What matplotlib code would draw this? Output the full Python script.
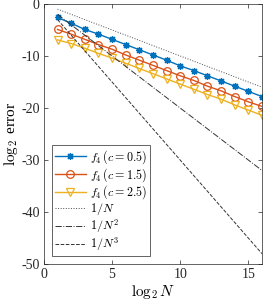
import matplotlib
matplotlib.use("Agg")
import matplotlib.pyplot as plt

# log2 N
log2N = [1, 2, 3, 4, 5, 6, 7, 8, 9, 10, 11, 12, 13, 14, 15, 16]

# log2 error for f4 with different c
err_c05 = [-2.6, -3.7, -4.9, -5.8, -6.8, -7.8, -8.8, -9.8, -10.8, -11.9,
           -12.8, -13.8, -14.8, -15.8, -16.8, -17.8]
err_c15 = [-4.9, -5.8, -6.8, -7.8, -8.7, -9.8, -10.8, -11.8, -12.8, -13.8,
           -14.7, -15.8, -16.7, -17.8, -18.8, -19.7]
err_c25 = [-6.9, -7.6, -8.5, -9.5, -10.4, -11.4, -12.4, -13.4, -14.4, -15.4,
           -16.4, -17.4, -18.3, -19.4, -20.4, -21.4]

# reference slopes
ref_N1 = [-1, -2, -3, -4, -5, -6, -7, -8, -9, -10, -11, -12, -13, -14, -15, -16]
ref_N2 = [-2, -4, -6, -8, -10, -12, -14, -16, -18, -20, -22, -24, -26, -28, -30, -32]
ref_N3 = [-3, -6, -9, -12, -15, -18, -21, -24, -27, -30, -33, -36, -39, -42, -45, -48]

plt.rcParams["font.family"] = "serif"
plt.rcParams["font.serif"] = ["Liberation Serif", "DejaVu Serif"]
plt.rcParams["mathtext.fontset"] = "cm"

fig = plt.figure(figsize=(2.66, 3.05), dpi=100)
ax = fig.add_axes([0.165, 0.134, 0.82, 0.853])

ax.plot(log2N, err_c05, "-", color="#0072BD", lw=1, marker=(8, 2, 0), ms=5,
        mew=0.9, label=r"$f_4\,(c=0.5)$")
ax.plot(log2N, err_c15, "-", color="#D95319", lw=1, marker="o", ms=5.5,
        mfc="none", mew=0.9, label=r"$f_4\,(c=1.5)$")
ax.plot(log2N, err_c25, "-", color="#EDB120", lw=1, marker="v", ms=5.5,
        mfc="none", mew=0.9, label=r"$f_4\,(c=2.5)$")
ax.plot(log2N, ref_N1, ":", color="0.3", lw=0.7, label=r"$1/N$")
ax.plot(log2N, ref_N2, "-.", color="0.2", lw=0.7, label=r"$1/N^2$")
ax.plot(log2N, ref_N3, "--", color="0.2", lw=0.7, label=r"$1/N^3$")

ax.set_xlim(0, 16)
ax.set_ylim(-50, 0)
ax.set_xticks([0, 5, 10, 15])
ax.set_yticks([0, -10, -20, -30, -40, -50])
ax.set_yticklabels(["0", "-10", "-20", "-30", "-40", "-50"])
ax.tick_params(direction="in", top=True, right=True, length=3, width=0.5,
               labelsize=10, colors="0.15", labelcolor="0.15", pad=3)
for s in ax.spines.values():
    s.set_linewidth(0.5)
    s.set_color("0.15")

ax.set_xlabel(r"$\log_2 N$", fontsize=11, labelpad=1)
ax.set_ylabel(r"$\log_2$ error", fontsize=11, labelpad=1)

leg = ax.legend(loc="lower left", bbox_to_anchor=(0.035, 0.03), fontsize=8.7,
                fancybox=False, framealpha=1, edgecolor="0.15",
                handlelength=2.6, handletextpad=0.3, labelspacing=0.0,
                borderpad=0.25, borderaxespad=0)
leg.get_frame().set_linewidth(0.5)

fig.savefig("out.png", dpi=100)
